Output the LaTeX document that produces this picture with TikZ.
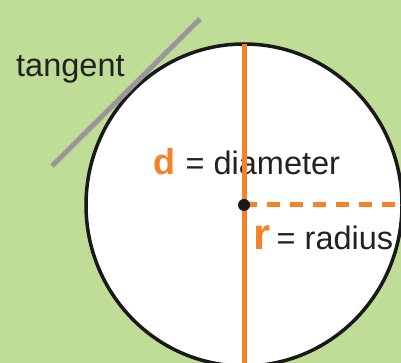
\documentclass[tikz,border=0pt]{standalone}
\usepackage{fontspec}
\setmainfont{Liberation Sans}
\usepackage{xcolor}
\usepackage{tikz}
\usetikzlibrary{positioning}
\definecolor{bggreen}{RGB}{191,221,151}
\definecolor{accentorange}{RGB}{245,130,38}
\definecolor{tangentgray}{RGB}{152,152,152}
\definecolor{textdark}{RGB}{34,34,34}

\begin{document}
\begin{tikzpicture}[
    x=1pt, y=1pt,
    label/.style={inner sep=0pt, anchor=base west, text=textdark, font=\fontsize{32.5}{32.5}\selectfont},
    symbol/.style={inner sep=0pt, anchor=base west, text=accentorange},
    orangeline/.style={draw=accentorange, line width=5pt},
    tangentline/.style={draw=tangentgray, line width=5pt}
]

% background and margins
\fill[bggreen] (0,0) rectangle (401,363);
\useasboundingbox (0,0) rectangle (401,363);

\coordinate (centre) at (244,158);
\coordinate (top) at (244,319);
\coordinate (bottom) at (244,-2);
\coordinate (rim) at (403,158);
\coordinate (t1) at (52,197);
\coordinate (t2) at (200,344);

\draw[fill=white, draw=black!90, line width=3.5pt] (centre) ellipse [x radius=158, y radius=161];

\node[label] (tangentlab) at (16,286) {tangent};
\node[symbol, font=\bfseries\fontsize{36}{36}\selectfont] (dlab) at (153,188) {d};
\node[label, right=10pt of dlab.base east, anchor=base west] (diamlab) {= diameter};
\node[symbol, font=\bfseries\fontsize{44}{44}\selectfont] (rlab) at (253,113) {r};
\node[label, right=6pt of rlab.base east, anchor=base west] (radlab) {= radius};

\draw[tangentline] (t1) -- (t2);
\draw[orangeline] (top) -- (bottom);
\draw[orangeline, dash pattern=on 13pt off 10pt] (centre) -- (rim);
\fill[black!90] (centre) circle (6pt);

\end{tikzpicture}
\end{document}
